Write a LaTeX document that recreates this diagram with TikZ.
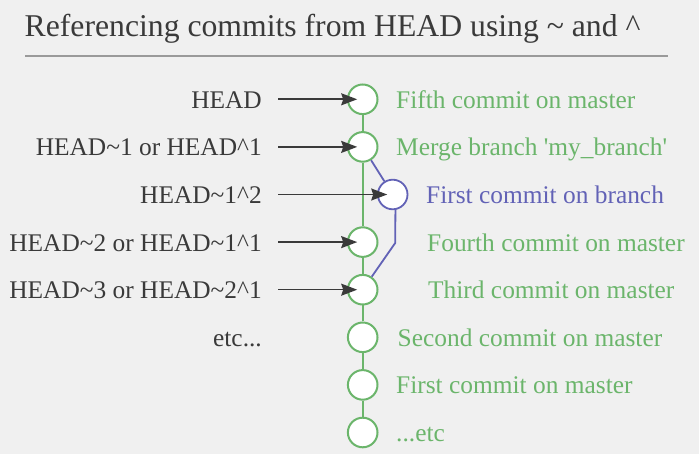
\documentclass[tikz,border=0pt]{standalone}
\usepackage{graphicx}
\usepackage{fontspec}
\newfontfamily\libserif{Liberation Serif}
\usetikzlibrary{arrows.meta}
\definecolor{bg}{HTML}{F0F0F0}
\definecolor{ink}{HTML}{3A3A3A}
\definecolor{master}{HTML}{6BB56B}
\definecolor{branch}{HTML}{6262B6}
\definecolor{rule}{HTML}{9A9A9A}
\tikzset{
  commit/.style={circle, draw=master, fill=white, line width=2pt, minimum size=29.6pt, inner sep=0pt},
  bcommit/.style={commit, draw=branch, line width=1.8pt},
  txt/.style={inner sep=0pt, font=\libserif\fontsize{25.4}{30}\selectfont},
  reflabel/.style={txt, anchor=base east, text=ink},
  msglabel/.style={txt, anchor=base west, text=master},
  bmsglabel/.style={msglabel, text=branch},
  refarrow/.style={draw=ink, line width=1.6pt, -{Stealth[length=16pt,width=12pt,inset=2pt]}, shorten >=5.5pt},
  mainline/.style={draw=master, line width=2pt},
  sideline/.style={draw=branch, line width=1.8pt},
}
\begin{document}
\begin{tikzpicture}[x=1pt,y=-1pt]
  \fill[bg] (0,0) rectangle (699,454);
  \useasboundingbox (0,0) rectangle (699,454);

  % heading, same face enlarged
  \node[txt, anchor=base west, text=ink]
    (title) at (24.5,36.5) {\scalebox{1.248}{Referencing commits from HEAD using \textasciitilde{} and \textasciicircum}};
  \coordinate (ruleL) at (25,56.5);
  \coordinate (ruleR) at (668,56.5);
  \draw[rule, line width=2pt] (ruleL) -- (ruleR);

  % commits
  \node[commit]  (c1) at (362.7,99.3)  {};
  \node[commit]  (c2) at (362.7,146.9) {};
  \node[bcommit] (b1) at (392.7,194.5) {};
  \node[commit]  (c3) at (362.7,242.1) {};
  \node[commit]  (c4) at (362.7,289.7) {};
  \node[commit]  (c5) at (362.7,337.3) {};
  \node[commit]  (c6) at (362.7,384.9) {};
  \node[commit]  (c7) at (362.7,432.5) {};

  % history lines
  \coordinate (kink) at (395.2,243);
  \draw[mainline] (c1) -- (c2) -- (c3) -- (c4) -- (c5) -- (c6) -- (c7);
  \draw[sideline] (c2) -- (b1);
  \draw[sideline] (b1.280) -- (kink) -- (c4);

  % commit messages
  \node[msglabel]  (m1) at (396,108.3) {Fifth commit on master};
  \node[msglabel]  (m2) at (396,155.9) {Merge branch \textquotesingle my\_branch\textquotesingle};
  \node[bmsglabel] (m3) at (426,203.5) {First commit on branch};
  \node[msglabel]  (m4) at (427,251.1) {Fourth commit on master};
  \node[msglabel]  (m5) at (428,298.7) {Third commit on master};
  \node[msglabel]  (m6) at (397.5,346.3) {Second commit on master};
  \node[msglabel]  (m7) at (396,393.9) {First commit on master};
  \node[msglabel]  (m8) at (396,441.5) {...etc};

  % references
  \node[reflabel] (r1) at (262,108.3) {HEAD};
  \node[reflabel] (r2) at (262,155.9) {HEAD\textasciitilde1 or HEAD\textasciicircum1};
  \node[reflabel] (r3) at (262,203.5) {HEAD\textasciitilde1\textasciicircum2};
  \node[reflabel] (r4) at (262,251.1) {HEAD\textasciitilde2 or HEAD\textasciitilde1\textasciicircum1};
  \node[reflabel] (r5) at (262,298.7) {HEAD\textasciitilde3 or HEAD\textasciitilde2\textasciicircum1};
  \node[reflabel] (r6) at (262,346.3) {etc...};

  \coordinate (a1) at (278,99.3);
  \coordinate (a2) at (278,146.9);
  \coordinate (a3) at (278,194.5);
  \coordinate (a4) at (278,242.1);
  \coordinate (a5) at (278,289.7);
  \draw[refarrow] (a1) -- (c1.center);
  \draw[refarrow] (a2) -- (c2.center);
  \draw[refarrow] (a3) -- (b1.center);
  \draw[refarrow] (a4) -- (c3.center);
  \draw[refarrow] (a5) -- (c4.center);
\end{tikzpicture}
\end{document}
